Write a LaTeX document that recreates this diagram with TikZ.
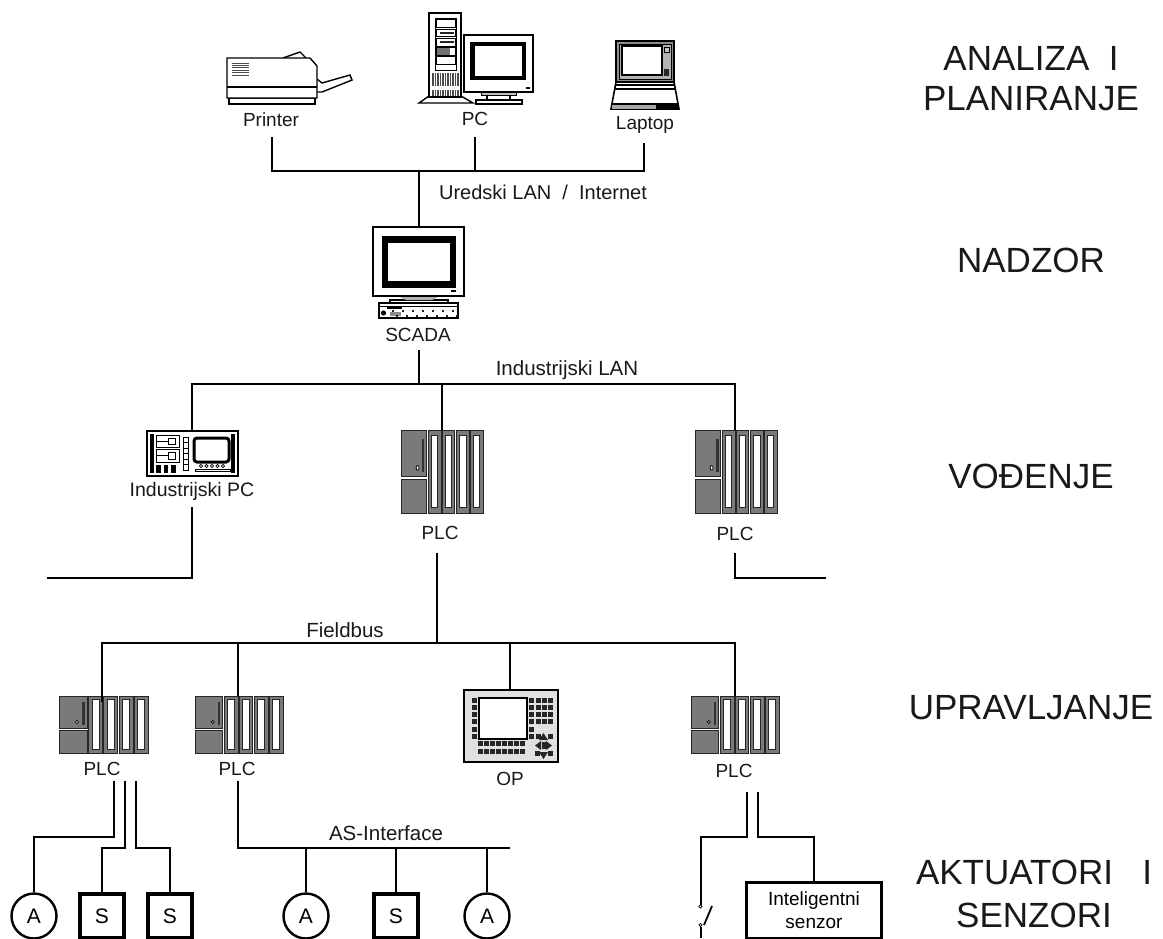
\documentclass[tikz,border=0pt]{standalone}
\usepackage{fontspec}
\setmainfont{Liberation Sans}
\tikzset{
  wire/.style={line width=1.8pt,black,line cap=butt},
  ln/.style={line width=1.4pt},
  thinl/.style={line width=0.8pt},
  lbl/.style={inner sep=0pt,font=\fontsize{19}{22}\selectfont,align=center,text=black!90},
  lblw/.style={inner sep=0pt,font=\fontsize{20.5}{22}\selectfont,align=center,text=black!90},
  level/.style={inner sep=0pt,font=\fontsize{35}{40}\selectfont,align=center,text=black!90},
  sbox/.style={rectangle,draw=black,line width=3.2pt,minimum size=44pt,inner sep=0pt,font=\fontsize{21}{24}\selectfont,fill=white},
  acirc/.style={draw,circle,line width=2.4pt,minimum size=45pt,inner sep=0pt,font=\fontsize{21}{24}\selectfont,fill=white},
  plcgray/.style={fill=black!52,draw=black!85,line width=1pt},
  key/.style={fill=black!85},
}
\newcommand\plcicon[4]{%
  \begin{scope}[shift={(#1,#2)},xscale=#3/89,yscale=#4/57]
    \path[plcgray] (0,0) rectangle (28,32);
    \path[plcgray] (0,34) rectangle (28,57);
    \fill[black!80] (23,6) rectangle (25.5,29);
    \fill[white] (18,26) circle (1.6pt);
    \draw[black,line width=0.8pt] (18,26) circle (1.6pt);
    \foreach \sx in {29.5,44.5,60,75}{
      \path[plcgray] (\sx,0) rectangle +(14,57);
      \path[fill=white,draw=black!85,line width=0.9pt] (\sx+3.5,3.5) rectangle +(7,50);
    }
  \end{scope}}
\begin{document}
\begin{tikzpicture}[x=1pt,y=-1pt]
\clip (0,0) rectangle (1163,938);
\fill[white] (0,0) rectangle (1163,938);

% ---------- Printer
\path[fill=white,draw=black,ln] (283,58)--(300,52)--(306,58);
\path[fill=white,draw=black,ln] (317,79)--(322,83)--(350,75)--(352,80)--(322,92)--(317,92);
\path[fill=white,draw=black,ln] (229,98) rectangle (315,104);
\path[fill=white,draw=black,ln] (227,58)--(310,58)--(317,66)--(317,98)--(227,98)--cycle;
\draw[ln] (227,87)--(317,87);
\foreach \yy in {63,65.4,67.8,70.2,72.6,75}{\draw[black!70,line width=0.8pt] (232,\yy)--(249,\yy);}
\node[lbl] (printerlbl) at (271,120) {Printer};

% ---------- PC tower
\path[fill=white,draw=black,ln] (429,96)--(419,103)--(473,103)--(461,96)--cycle;
\path[fill=white,draw=black,ln] (429,13) rectangle (461,97);
\draw[thinl] (435,18) rectangle (456,70);
\draw[thinl] (436,19) rectangle (455,27);
\draw[thinl] (436,29) rectangle (455,36);
\fill[black!85] (440,31.5) rectangle (454,33.5);
\draw[thinl] (436,38) rectangle (455,46);
\fill[black!85] (440,40.5) rectangle (454,42.5);
\fill[black!55] (436,47) rectangle (450,55);
\draw[thinl] (436,47) rectangle (455,55);
\draw[thinl] (436,56) rectangle (455,64);
\foreach \xx in {433,435.5,...,458}{\draw[black!70,line width=1.1pt] (\xx,73)--(\xx,86);\draw[black!70,line width=1.1pt] (\xx,90)--(\xx,96);}
% PC monitor
\path[fill=white,draw=black,ln] (476,100) rectangle (522,104);
\path[fill=white,draw=black,ln] (487,94) rectangle (510,100);
\path[fill=black!25,draw=black,thinl] (481,92) rectangle (516,95);
\path[fill=white,draw=black,ln] (464,35) rectangle (533,92);
\fill[black] (470,42) rectangle (526,80);
\fill[white] (475,46) rectangle (522,76);
\fill[black] (526,87) rectangle (530,89);
\node[lbl] (pclbl) at (475,119) {PC};

% ---------- Laptop
\path[fill=white,draw=black,line width=1.6pt] (616,82)--(611,109)--(679,109)--(674,82)--cycle;
\draw[ln] (615,85)--(675,85);
\draw[ln] (614,89)--(676,89);
\fill[black!35] (612,104) rectangle (656,108.5);
\fill[black] (656,104) rectangle (678,108.5);
\draw[ln] (611,104)--(679,104);
\path[fill=black!45,draw=black,line width=1.6pt] (616,41) rectangle (674,82);
\path[fill=black!30,draw=black,thinl] (619,44) rectangle (671,79);
\path[fill=white,draw=black,ln] (622,46) rectangle (662,75);
\path[fill=black!25,draw=black,thinl] (664,47) rectangle (669,52);
\path[fill=black!85] (664,69) rectangle (669,76);
\node[lbl] (laptoplbl) at (645,125) {Laptop};

% ---------- SCADA
\path[fill=white,draw=black,ln] (390,303)--(390,300)--(448,300)--(448,303);
\path[fill=black!30,draw=none] (398,296)--(440,296)--(432,300)--(406,300)--cycle;
\path[fill=white,draw=black,ln] (379,303) rectangle (458,318);
\draw[thinl] (380,306)--(457,306);
\fill[black] (387,306) rectangle (402,309);
\fill[black] (383.5,313) circle (2.6pt);
\fill[black!45] (390,312) rectangle (401,316);
\foreach \xx in {392,...,457}{\pgfmathparse{int(mod(\xx-392,10))}\ifnum\pgfmathresult=0 \fill[black!85] (\xx,310) rectangle +(1.6,1.6); \fill[black!85] (\xx+4,315) rectangle +(1.6,1.6);\fi}
\path[fill=white,draw=black,ln] (373,227) rectangle (464,296);
\fill[black] (382,236) rectangle (456,288);
\fill[white] (388,243) rectangle (450,281);
\fill[black] (451,290) rectangle (456,292);
\node[lbl] (scadalbl) at (418,335) {SCADA};

% ---------- Industrial PC
\path[fill=white,draw=black,line width=1.6pt] (147,431) rectangle (238,476);
\fill[black] (150,434) rectangle (154,473);
\fill[black] (231,434) rectangle (235,473);
\draw[thinl] (156,435) rectangle (179,447);
\draw[thinl] (156,441)--(168,441); \draw[thinl] (168,438) rectangle (175,444);
\draw[thinl] (156,449) rectangle (179,462);
\draw[thinl] (156,455)--(168,455); \draw[thinl] (168,452) rectangle (175,459);
\foreach \xx in {156,163.5,171}{\fill[black] (\xx,465) rectangle +(4.5,8);}
\draw[thinl] (183,437) rectangle (188,470);
\foreach \yy in {442.5,448,453.5,459,464.5}{\draw[thinl] (183,\yy)--(188,\yy);}
\draw[black,line width=3pt,rounded corners=3pt] (194,438) rectangle (229,462);
\foreach \xx in {201,206.5,212,217.5,223}{\draw[black,line width=0.6pt] (\xx,466) circle (1.6pt);}
\draw[thinl] (195,469) rectangle (230,471.5);
\node[lbl,font=\fontsize{19.5}{22}\selectfont] (ipclbl) at (192,491) {Industrijski PC};

% ---------- PLCs
\plcicon{401}{430}{82}{83}
\node[lbl] (plcAlbl) at (440,533) {PLC};
\plcicon{695}{430}{82}{83}
\node[lbl] (plcBlbl) at (735,534) {PLC};
\plcicon{59}{696}{89}{57}
\node[lbl] (plcClbl) at (102,769) {PLC};
\plcicon{195}{696}{88}{57}
\node[lbl] (plcDlbl) at (237,769) {PLC};
\plcicon{691}{696}{88}{57}
\node[lbl] (plcElbl) at (734,771) {PLC};

% ---------- OP
\path[fill=black!12,draw=black,line width=1.6pt] (464,690) rectangle (558,762);
\path[fill=white,draw=black,line width=1.6pt] (479,698) rectangle (527,739);
\foreach \yy in {698,705,712,719,727,734}{\fill[key] (472,\yy) rectangle +(5,5);}
\foreach \yy in {698,705,712,719}{\foreach \xx in {529,535.5,542,548}{\fill[key] (\xx,\yy) rectangle +(5,5);}}
\fill[key] (529,727) rectangle +(5,5);
\fill[key] (529,734) rectangle +(5,5);
\fill[key] (535.5,734) rectangle +(5,5);
\fill[key] (548,734) rectangle +(5,5);
\foreach \yy in {741,749}{\foreach \xx in {478,484,490,496,502,508,514,520}{\fill[key] (\xx,\yy) rectangle +(5,5);}}
\fill[key] (543.5,733)--(548,740)--(539,740)--cycle;
\fill[key] (543.5,759)--(548,752)--(539,752)--cycle;
\fill[key] (535,745.5)--(541,741)--(541,750)--cycle;
\fill[key] (552,745.5)--(546,741)--(546,750)--cycle;
\fill[key] (541.5,742) rectangle (545.5,749);
\fill[key] (535,751) rectangle +(5,5);
\fill[key] (548,751) rectangle +(5,5);
\node[lbl] (oplbl) at (510,779) {OP};

% ---------- Field devices
\node[acirc] (a1) at (34,916) {A};
\node[sbox] (s1) at (102,916) {S};
\node[sbox] (s2) at (170,916) {S};
\node[acirc] (a2) at (306,916) {A};
\node[sbox] (s3) at (396,916) {S};
\node[acirc] (a3) at (487,916) {A};
\node[draw,line width=2.8pt,minimum width=135pt,minimum height=56pt,inner sep=0pt,font=\fontsize{19}{23}\selectfont,align=center,fill=white] (senzor) at (814,910.5) {Inteligentni\\senzor};

% ---------- Switch
\coordinate (swA) at (701,905);
\coordinate (swB) at (701,925);
\coordinate (swEnd) at (701,938);
\draw[black,line width=0.8pt] (700.5,906.5) circle (1.6pt);
\draw[black,line width=0.8pt] (700.5,925) circle (1.6pt);
\draw[wire] (704,925)--(712,906);

% ---------- Anchors of connectors
\coordinate (printerW) at (272,137);
\coordinate (pcW) at (475,137);
\coordinate (laptopW) at (644,143);
\coordinate (busTopJ) at (419,171);
\coordinate (scadaTop) at (419,227);
\coordinate (scadaW) at (419,350);
\coordinate (busLanJ) at (419,384);
\coordinate (ipcTop) at (192,431);
\coordinate (plcATop) at (442,430);
\coordinate (plcBTop) at (735,430);
\coordinate (ipcW) at (192,507);
\coordinate (ipcEnd) at (47,578);
\coordinate (plcAW) at (437,553);
\coordinate (busField) at (437,643);
\coordinate (plcBW) at (735,553);
\coordinate (plcBEnd) at (826,578);
\coordinate (plcCTop) at (102,702);
\coordinate (plcDTop) at (238,696);
\coordinate (opTop) at (510,690);
\coordinate (plcETop) at (735,696);
\coordinate (plcCa) at (114,781);
\coordinate (plcCb) at (125,781);
\coordinate (plcCc) at (136,781);
\coordinate (plcDW) at (238,781);
\coordinate (asEnd) at (510,848);
\coordinate (plcEa) at (747,792);
\coordinate (plcEb) at (758,792);

% ---------- Connectors
\draw[wire] (printerW) |- (laptopW |- busTopJ) -- (laptopW);
\draw[wire] (pcW) -- (pcW |- busTopJ);
\draw[wire] (busTopJ) -- (scadaTop);
\draw[wire] (scadaW) -- (busLanJ);
\draw[wire] (ipcTop) |- (plcBTop |- busLanJ) -- (plcBTop);
\draw[wire] (plcATop) -- (plcATop |- busLanJ);
\draw[wire] (ipcW) |- (ipcEnd);
\draw[wire] (plcBW) |- (plcBEnd);
\draw[wire] (plcAW) -- (busField);
\draw[wire] (plcCTop) |- (plcETop |- busField) -- (plcETop);
\draw[wire] (plcDTop) -- (plcDTop |- busField);
\draw[wire] (opTop) -- (opTop |- busField);
\draw[wire] (plcCa) -- ++(0,56) -| (a1.north);
\draw[wire] (plcCb) -- ++(0,67) -| (s1.north);
\draw[wire] (plcCc) -- ++(0,67) -| (s2.north);
\draw[wire] (plcDW) |- (asEnd);
\draw[wire] (a2.north) -- (a2.north |- asEnd);
\draw[wire] (s3.north) -- (s3.north |- asEnd);
\draw[wire] (a3.north) -- (a3.north |- asEnd);
\draw[wire] (plcEa) -- ++(0,45) -| (swA);
\draw[wire] (plcEb) -- ++(0,45) -| (senzor.north);
\draw[wire] (swB) ++(0,2) -- (swEnd);

% ---------- Bus labels
\node[lblw,font=\fontsize{20}{22}\selectfont] (uredski) at (543,192) {Uredski LAN \ /\ \ Internet};
\node[lblw] (indlan) at (567,370) {Industrijski LAN};
\node[lblw] (fieldbus) at (345,630) {Fieldbus};
\node[lblw] (asint) at (386,833) {AS-Interface};

% ---------- Levels
\node[level] (l1) at (1031,58) {ANALIZA\ \ I};
\node[level] (l1b) at (1031,99) {PLANIRANJE};
\node[level] (l2) at (1031,260) {NADZOR};
\node[level] (l3) at (1031,476) {VOĐENJE};
\node[level] (l4) at (1031,708) {UPRAVLJANJE};
\node[level] (l5) at (1034,872) {AKTUATORI\ \ \ I};
\node[level] (l5b) at (1034,915) {SENZORI};
\end{tikzpicture}
\end{document}
